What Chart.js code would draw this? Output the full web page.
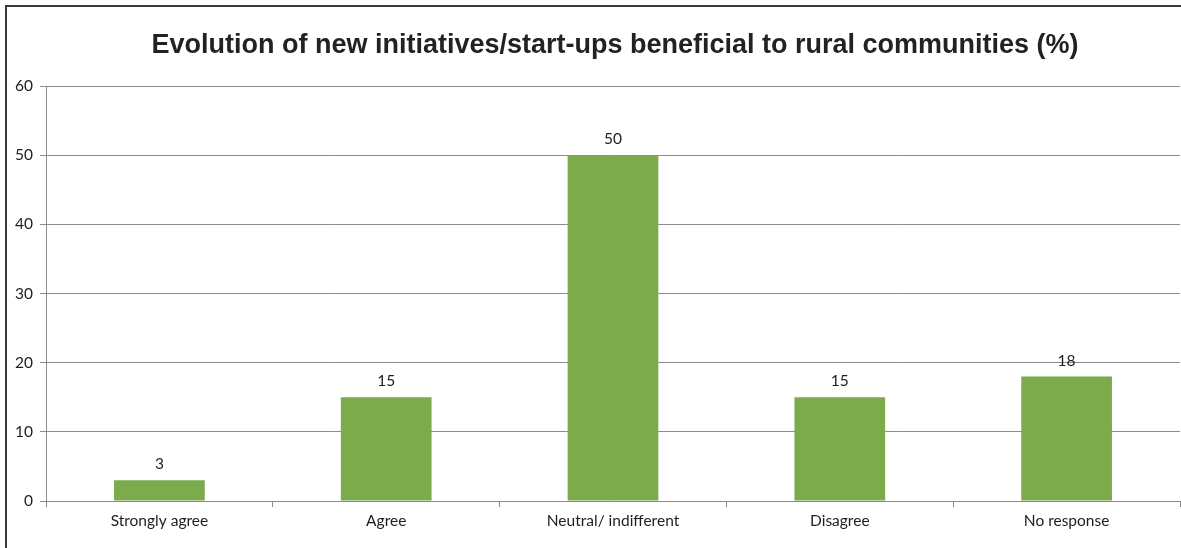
<!DOCTYPE html>
<html>
<head>
<meta charset="utf-8">
<script src="https://cdn.jsdelivr.net/npm/chart.js@4.4.1/dist/chart.umd.min.js"></script>
<style>
  html, body { margin: 0; padding: 0; background: #fff; overflow: hidden; width: 1181px; height: 548px; }
  #frame {
    position: absolute; left: 5px; top: 5px; width: 1174px; height: 541px;
    border-left: 2px solid #3a3a3a; border-top: 2px solid #3a3a3a;
  }
  #wrap { position: absolute; left: 0; top: 0; width: 1181px; height: 548px; }
</style>
</head>
<body>
<div id="frame"></div>
<div id="wrap"><canvas id="chart-start-ups"></canvas></div>
<script>
const categories = ["Strongly agree", "Agree", "Neutral/ indifferent", "Disagree", "No response"];
const percentages = [3, 15, 50, 15, 18];
const yTicks = [0, 10, 20, 30, 40, 50, 60];
const chartTitle = "Evolution of new initiatives/start-ups beneficial to rural communities (%)";

const GRID = "#8c8c8c";
const TEXT = "#1e1e1e";
const LABEL_FONT = "Lato, 'Open Sans', sans-serif";
const LABEL_SIZE = 15.5;

// title and value labels are painted by hand
const decorations = {
  id: "decorations",
  afterDatasetsDraw(chart) {
    const ctx = chart.ctx;
    ctx.save();
    ctx.fillStyle = TEXT;
    ctx.textAlign = "center";
    ctx.textBaseline = "middle";
    ctx.font = LABEL_SIZE + "px " + LABEL_FONT;
    const meta = chart.getDatasetMeta(0);
    meta.data.forEach((bar, i) => {
      ctx.fillText(String(percentages[i]), bar.x, bar.y - 16);
    });
    ctx.font = "bold 27px Arial, 'Liberation Sans', sans-serif";
    ctx.fillStyle = "#222";
    ctx.fillText(chartTitle, 615, 46);
    ctx.restore();
  }
};

const ctx = document.getElementById("chart-start-ups").getContext("2d");
new Chart(ctx, {
  type: "bar",
  data: {
    labels: categories,
    datasets: [{
      data: percentages,
      backgroundColor: "#7cab4c",
      borderWidth: 0,
      categoryPercentage: 1,
      barPercentage: 0.4
    }]
  },
  options: {
    responsive: true,
    maintainAspectRatio: false,
    animation: false,
    layout: { padding: { top: 86, right: 1, left: 0, bottom: 0 } },
    plugins: {
      legend: { display: false },
      title: { display: false },
      tooltip: { enabled: false }
    },
    scales: {
      x: {
        offset: true,
        grid: {
          offset: true,
          drawOnChartArea: false,
          drawTicks: true,
          tickLength: 6,
          color: GRID
        },
        border: { color: GRID, width: 1 },
        ticks: {
          color: TEXT,
          font: { family: LABEL_FONT, size: LABEL_SIZE },
          padding: 5,
          maxRotation: 0
        },
        afterFit(scale) { scale.height = 47; }
      },
      y: {
        min: 0,
        max: 60,
        afterBuildTicks(scale) { scale.ticks = yTicks.map(v => ({ value: v })); },
        grid: {
          color: GRID,
          drawTicks: true,
          tickLength: 6
        },
        border: { color: GRID, width: 1 },
        ticks: {
          color: TEXT,
          font: { family: LABEL_FONT, size: LABEL_SIZE },
          padding: 7
        },
        afterFit(scale) { scale.width = 46; }
      }
    }
  },
  plugins: [decorations]
});
</script>
</body>
</html>
